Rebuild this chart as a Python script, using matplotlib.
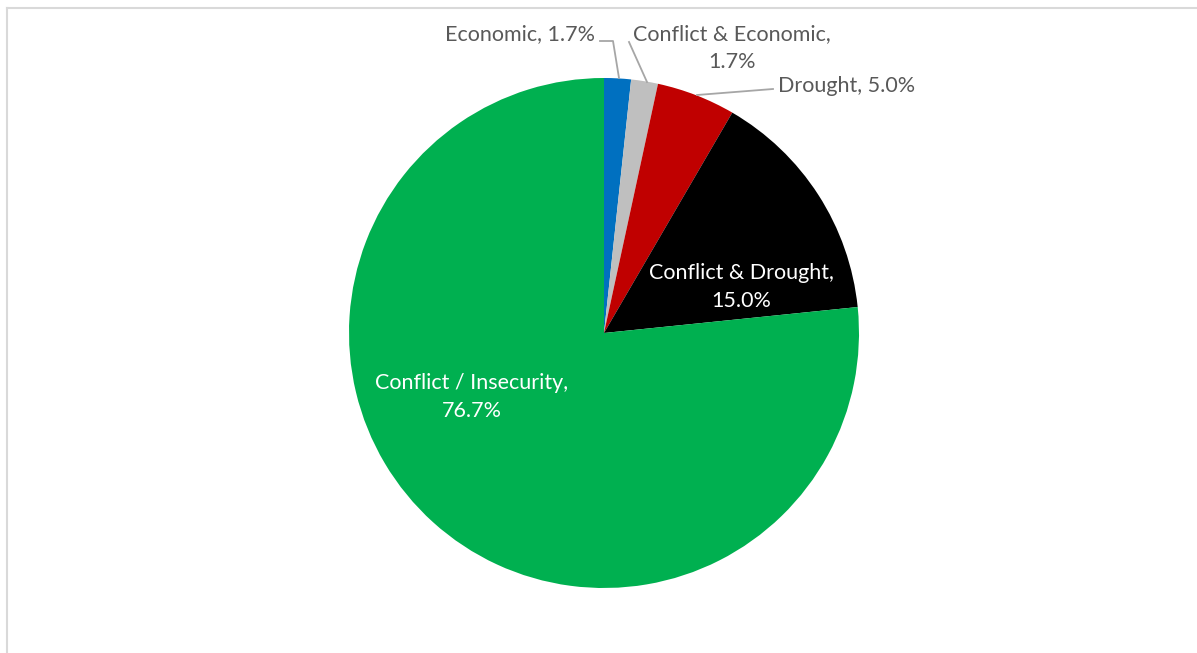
import matplotlib.pyplot as plt
from matplotlib.lines import Line2D

# Data
labels = ["Economic", "Conflict & Economic", "Drought", "Conflict & Drought", "Conflict / Insecurity"]
shares = [1.7, 1.7, 5.0, 15.0, 76.7]
colors = ["#0070C0", "#BFBFBF", "#C00000", "#000000", "#00B050"]

W, H = 1197, 653
plt.rcParams["font.family"] = ["Lato", "DejaVu Sans"]

fig = plt.figure(figsize=(W / 100, H / 100), dpi=100)
ax = fig.add_axes([0, 0, 1, 1])

cx, cy, r = 604, H - 333, 255
ax.pie(shares, colors=colors, startangle=90, counterclock=False,
       center=(cx, cy), radius=r, wedgeprops=dict(linewidth=0), frame=True)
ax.set_xlim(0, W)
ax.set_ylim(0, H)
ax.axis("off")

fs = 15.5
grey = "#595959"
lead = "#A6A6A6"


def py(y):
    return H - y


# outside labels with leader lines
ax.text(595, py(34), f"{labels[0]}, {shares[0]:.1f}%", ha="right", va="center",
        fontsize=fs, color=grey)
ax.plot([600, 613, 619], [py(41), py(41), py(78)], color=lead, lw=1.3)

ax.text(732, py(48), f"{labels[1]},\n{shares[1]:.1f}%", ha="center", va="center",
        fontsize=fs, color=grey, linespacing=1.5)
ax.plot([629, 647], [py(42), py(82)], color=lead, lw=1.3)

ax.text(778, py(86), f"{labels[2]}, {shares[2]:.1f}%", ha="left", va="center",
        fontsize=fs, color=grey)
ax.plot([697, 773], [py(95), py(89)], color=lead, lw=1.3)

# inside labels
ax.text(741, py(287), f"{labels[3]},\n{shares[3]:.1f}%", ha="center", va="center",
        fontsize=fs, color="white", linespacing=1.5)
ax.text(472, py(397), f"{labels[4]},\n{shares[4]:.1f}%", ha="center", va="center",
        fontsize=fs, color="white", linespacing=1.5)

# chart area border (top and left visible)
fig.add_artist(Line2D([7 / W, 1], [1 - 8 / H, 1 - 8 / H], color="#D9D9D9", lw=1.5,
                      transform=fig.transFigure))
fig.add_artist(Line2D([7 / W, 7 / W], [0, 1 - 8 / H], color="#D9D9D9", lw=1.5,
                      transform=fig.transFigure))

fig.savefig("out.png", dpi=100)
